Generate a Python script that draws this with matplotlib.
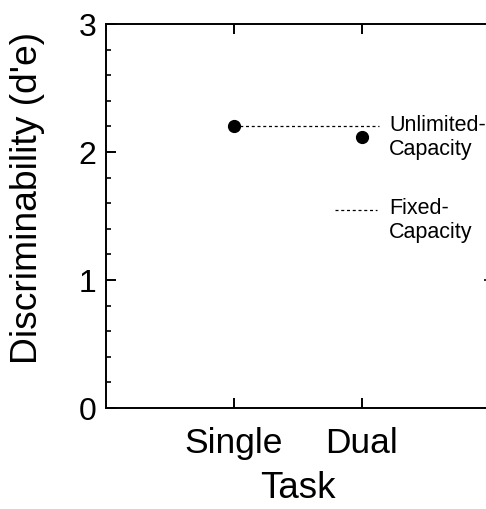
import matplotlib.pyplot as plt
from matplotlib.ticker import MultipleLocator

plt.rcParams['font.family'] = ['Liberation Sans', 'DejaVu Sans']

# data
tasks = ['Single', 'Dual']
task_pos = [1, 2]
dprime = [2.2, 2.12]

# model predictions (dashed reference lines)
unlimited_x = [1.0, 2.13]
unlimited_y = [2.2, 2.2]
fixed_x = [1.79, 2.12]
fixed_y = [1.55, 1.55]

fig = plt.figure(figsize=(4.86, 5.10), dpi=100)
# axes runs a little past the right edge of the figure, as in the original
ax = fig.add_axes([106 / 486, 1 - 409 / 510, 384 / 486, 384 / 510])

ax.plot(task_pos, dprime, 'o', color='black', ms=8.5, ls='none', zorder=3)
ax.plot(unlimited_x, unlimited_y, color='black', lw=0.9, ls=(0, (2.4, 2.2)))
ax.plot(fixed_x, fixed_y, color='black', lw=0.9, ls=(0, (2.4, 2.2)))

ax.text(2.21, 2.3, 'Unlimited-\nCapacity', fontsize=15.5, va='top',
        ha='left', linespacing=1.22)
ax.text(2.21, 1.65, 'Fixed-\nCapacity', fontsize=15.5, va='top',
        ha='left', linespacing=1.22)

ax.set_xlim(0, 3)
ax.set_ylim(0, 3)
ax.set_xticks(task_pos)
ax.set_xticklabels(tasks)
ax.yaxis.set_major_locator(MultipleLocator(1))
ax.yaxis.set_minor_locator(MultipleLocator(0.2))

ax.tick_params(axis='both', which='major', direction='in', length=7,
               width=1.4, top=True)
ax.tick_params(axis='y', which='minor', direction='in', length=3.5,
               width=1.2)
ax.tick_params(axis='y', labelsize=23, pad=7)
ax.tick_params(axis='x', labelsize=25.5, pad=13)

# lone tick on the right side
rax = ax.secondary_yaxis('right')
rax.set_yticks([1])
rax.tick_params(direction='in', length=4, width=1.2, labelright=False)
rax.spines['right'].set_linewidth(1.4)

for s in ax.spines.values():
    s.set_linewidth(1.4)

ax.set_xlabel('Task', fontsize=26.5, labelpad=8)
ax.set_ylabel("Discriminability (d'e)", fontsize=26.8)
ax.yaxis.set_label_coords(-0.158, 0.55)

fig.savefig('out.png', dpi=100)
